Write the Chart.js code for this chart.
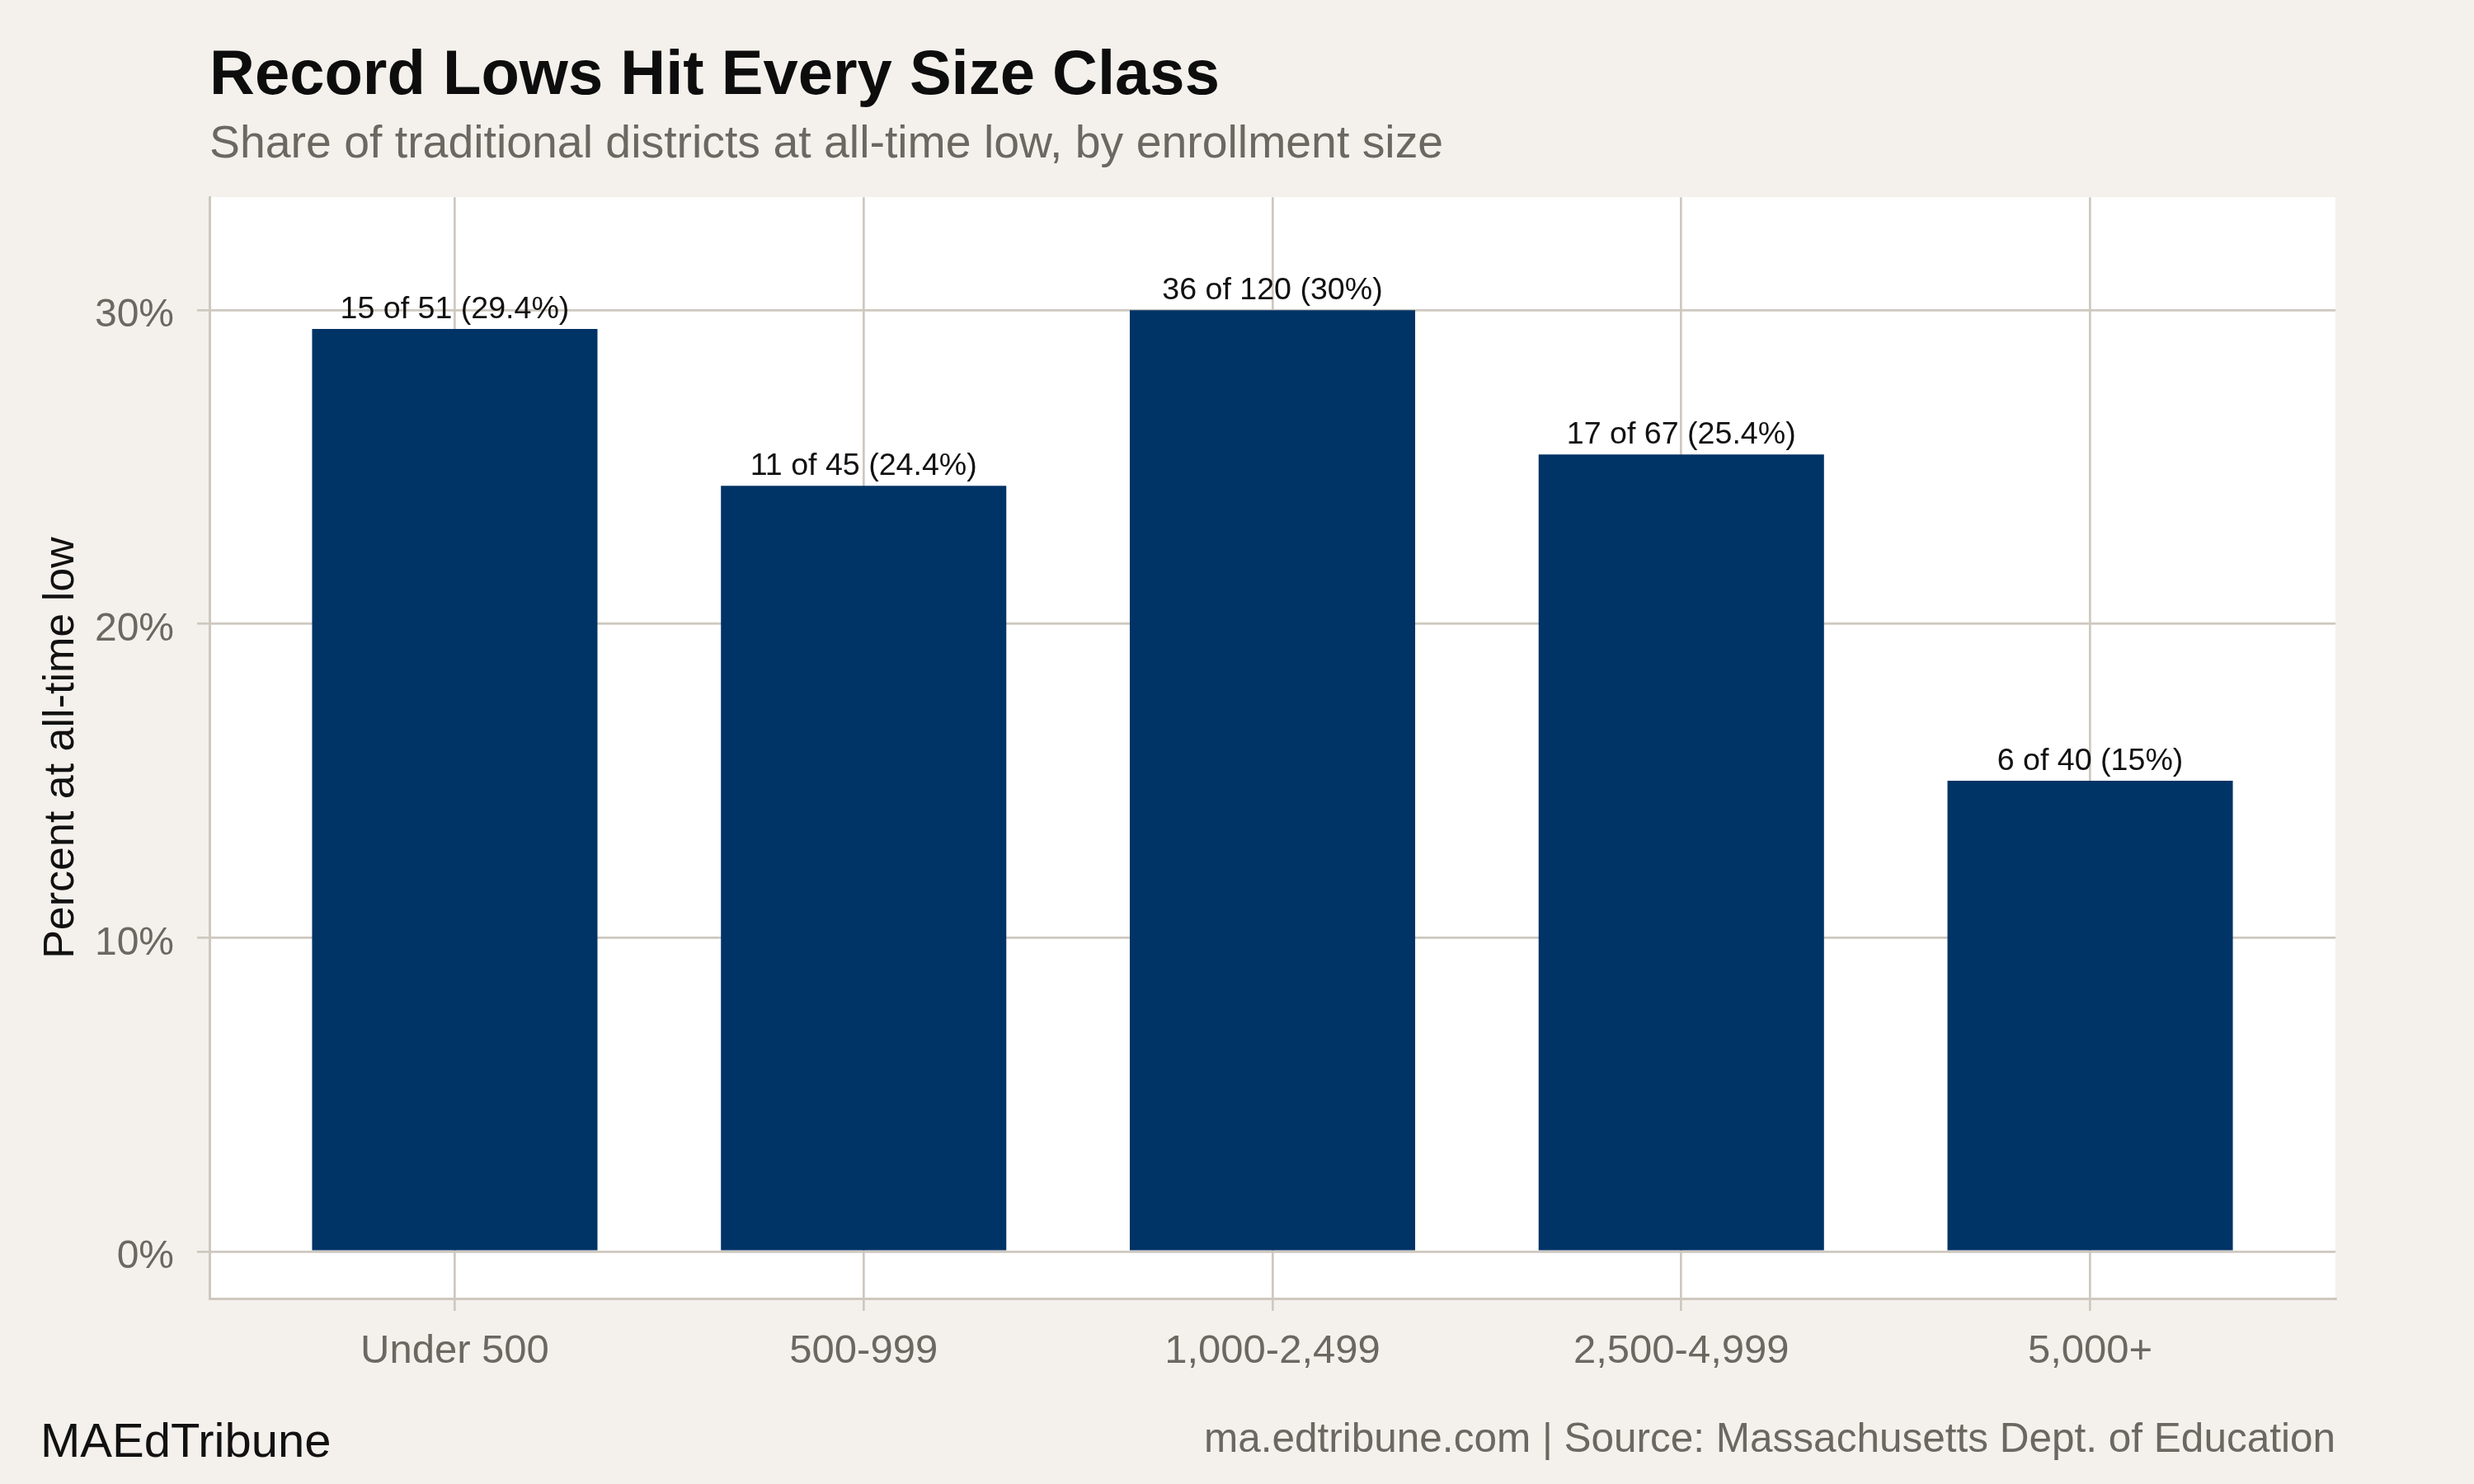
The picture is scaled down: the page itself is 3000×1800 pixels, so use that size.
<!DOCTYPE html>
<html>
<head>
<meta charset="utf-8">
<script src="https://cdn.jsdelivr.net/npm/chart.js@4.4.0/dist/chart.umd.min.js"></script>
<style>
  html, body { margin: 0; padding: 0; background: #F4F1EC; }
  #wrap { width: 3000px; height: 1800px; }
</style>
</head>
<body>
<div id="wrap"><canvas id="c" width="3000" height="1800"></canvas></div>
<script>
// ---- data ----
const categories = ['Under 500', '500-999', '1,000-2,499', '2,500-4,999', '5,000+'];
const atLowCounts = [15, 11, 36, 17, 6];
const districtTotals = [51, 45, 120, 67, 40];
const pctAtLow = [29.4, 24.4, 30, 25.4, 15];
const yTickValues = [0, 10, 20, 30];

const FONT = '"Liberation Sans", Arial, Helvetica, sans-serif';
const BG = '#F4F1EC';
const GRID = '#CEC8BF';
const GRAYTXT = '#6B6862';
const BAR = '#003366';

const bgPlugin = {
  id: 'bgPanel',
  beforeDraw(chart) {
    const { ctx, chartArea: a } = chart;
    ctx.save();
    ctx.fillStyle = BG;
    ctx.fillRect(0, 0, chart.width, chart.height);
    ctx.fillStyle = '#FFFFFF';
    ctx.fillRect(a.left, a.top, a.right - a.left, a.bottom - a.top);
    ctx.restore();
  }
};

const labelPlugin = {
  id: 'barLabels',
  afterDatasetsDraw(chart) {
    const { ctx } = chart;
    const meta = chart.getDatasetMeta(0);
    ctx.save();
    ctx.font = '37.6px ' + FONT;
    ctx.fillStyle = '#111111';
    ctx.textAlign = 'center';
    ctx.textBaseline = 'alphabetic';
    meta.data.forEach((bar, i) => {
      const txt = atLowCounts[i] + ' of ' + districtTotals[i] + ' (' + pctAtLow[i] + '%)';
      ctx.fillText(txt, bar.x, bar.y - 13);
    });
    ctx.restore();
  }
};

const footerPlugin = {
  id: 'footer',
  afterDraw(chart) {
    const { ctx } = chart;
    ctx.save();
    ctx.textBaseline = 'alphabetic';
    ctx.font = '58px ' + FONT;
    ctx.fillStyle = '#111111';
    ctx.textAlign = 'left';
    ctx.fillText('MAEdTribune', 49, 1767);
    ctx.font = '49.5px ' + FONT;
    ctx.fillStyle = GRAYTXT;
    ctx.textAlign = 'right';
    ctx.fillText('ma.edtribune.com | Source: Massachusetts Dept. of Education', 2832, 1761);
    ctx.restore();
  }
};

new Chart(document.getElementById('c'), {
  type: 'bar',
  data: {
    datasets: [{
      data: pctAtLow.map((v, i) => ({ x: i + 1, y: v })),
      backgroundColor: BAR,
      borderWidth: 0,
      barPercentage: 0.698,
      categoryPercentage: 1.0
    }]
  },
  options: {
    responsive: false,
    animation: false,
    devicePixelRatio: 1,
    layout: { padding: { top: 0, left: 0, right: 168, bottom: 75 } },
    plugins: {
      legend: { display: false },
      tooltip: { enabled: false },
      title: {
        display: true,
        text: 'Record Lows Hit Every Size Class',
        align: 'start',
        fullSize: false,
        color: '#0D0D0D',
        font: { family: FONT, size: 76, weight: 'bold', lineHeight: 1.2 },
        padding: { top: 47.7, bottom: 0 }
      },
      subtitle: {
        display: true,
        text: 'Share of traditional districts at all-time low, by enrollment size',
        align: 'start',
        fullSize: false,
        color: GRAYTXT,
        font: { family: FONT, size: 55.4, weight: 'normal', lineHeight: 1.2 },
        padding: { top: 3.6, bottom: 30.2 }
      }
    },
    scales: {
      x: {
        type: 'linear',
        min: 0.4,
        max: 5.6,
        offset: false,
        bounds: 'data',
        afterBuildTicks: s => { s.ticks = categories.map((c, i) => ({ value: i + 1 })); },
        afterFit: s => { s.height = 150; },
        ticks: {
          autoSkip: false,
          maxRotation: 0,
          minRotation: 0,
          padding: 19.9,
          color: GRAYTXT,
          font: { family: FONT, size: 49 },
          callback: (v, i) => categories[i]
        },
        grid: { offset: false, color: GRID, lineWidth: 2.7, tickLength: 15, drawTicks: true },
        border: { display: true, color: GRID, width: 3 }
      },
      y: {
        type: 'linear',
        min: -1.5,
        max: 33.6,
        afterBuildTicks: s => { s.ticks = yTickValues.map(v => ({ value: v })); },
        afterFit: s => { s.width = 254; },
        ticks: {
          padding: 28,
          labelOffset: 7,
          color: GRAYTXT,
          font: { family: FONT, size: 48 },
          callback: v => v + '%'
        },
        grid: { color: GRID, lineWidth: 2.7, tickLength: 15, drawTicks: true },
        border: { display: true, color: GRID, width: 3 },
        title: {
          display: true,
          text: 'Percent at all-time low',
          color: '#111111',
          font: { family: FONT, size: 52, lineHeight: 1.2 },
          padding: { top: 43.3, bottom: 0 }
        }
      }
    }
  },
  plugins: [bgPlugin, labelPlugin, footerPlugin]
});
</script>
</body>
</html>
